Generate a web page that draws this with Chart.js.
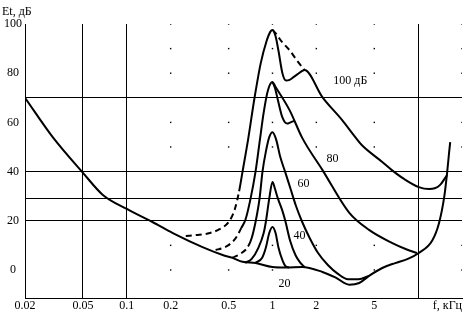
<!DOCTYPE html>
<html><head><meta charset="utf-8">
<script src="https://cdn.jsdelivr.net/npm/chart.js@4/dist/chart.umd.min.js"></script>
<style>html,body{margin:0;padding:0;background:#fff;}#wrap{width:469px;height:315px;position:relative;}</style>
</head><body><div id="wrap"><canvas id="c" width="469" height="315"></canvas></div>
<script>
// ---- data (frequency in kHz, level in dB) ----
const thresholdF = [0.02,0.031,0.05,0.0685,0.1,0.15,0.207,0.331,0.455,0.532,0.623,0.765,1.0,1.23,1.6,2.2,2.7,3.37,3.94,4.6,5.67,6.95,8.5,10.1,12.5,13.9,15.1,15.8,16.3,16.6];
const thresholdL = [70,54,39.5,30.5,24.8,19.5,15,9.3,6.1,4.9,3.3,2.8,1.2,1.0,1.2,-0.8,-3,-6,-5.3,-2.4,0.8,2.8,4.5,6.9,12,19,29.7,39.4,47.6,52];

const m20F = [0.76,0.85,0.9,0.95,1.0,1.05,1.1,1.17,1.23,1.3];
const m20L = [2.8,5,9,15,17.5,15,9,4,1.5,1.0];

const m40F = [0.65,0.72,0.8,0.87,0.9,0.95,1.0,1.04,1.09,1.17,1.23,1.32,1.44,1.55,1.66];
const m40L = [2.9,4.5,9,15,19.5,29,35.8,33,29,24,19.5,12,6,3,1.2];

const m60F = [0.53,0.6,0.68,0.72,0.765,0.815,0.854,0.9,0.95,1.0,1.06,1.13,1.22,1.33,1.45,1.6,1.8,2.05,2.4,2.8,3.3,3.9,4.6];
const m60L = [5,6.5,9.5,13,19.5,29,40,48,54,56,53,46,40,33,26,19.5,13,7,2,-1.5,-3.8,-3.8,-2.4];
const m60Dashed = 2;

const m80F = [0.407,0.46,0.51,0.56,0.61,0.653,0.707,0.765,0.82,0.87,0.93,1.0,1.05,1.31,1.6,2.2,3.37,4.6,6.6,8.2,9.8];
const m80L = [8.1,9,10.5,13,17,20.5,29,40,53,64,73,76.4,74.4,65,53.7,40.7,23.2,16.3,11,8.5,6.9];
const m80Dashed = 4;
const m80HookF = [1.0,1.04,1.09,1.17,1.26,1.33,1.41];
const m80HookL = [76.4,74,69,62,59.5,60,60.6];

const m100F = [0.254,0.30,0.36,0.43,0.50,0.55,0.59,0.623,0.68,0.753,0.83,0.91,0.97,1.0,1.05,1.1,1.17,1.24,1.31,1.4,1.48,1.66,2.2,3.0,3.7,4.1,5.67,6.6,8.0,10.1,11.9,13.0,14.1,15.8];
const m100L = [13.8,14.2,14.8,16.5,19.5,24.5,32,40,53,70,84,93,97,97.6,95,89,80,77,77.3,78.5,79.5,81.3,70.3,61,54,50.8,43.9,40.6,37,33.7,32.9,33.2,34.5,38.6];
const m100Dashed = 6;
const m100UpperF = [1.0,1.05,1.15,1.31,1.48,1.66];
const m100UpperL = [97.6,96.3,93,89.4,85,81.3];

// axis ticks and reference lines
const xTickValues = [0.02,0.05,0.1,0.2,0.5,1,2,5,10,20];
const xTickLabels = ['0.02','0.05','0.1','0.2','0.5','1','2','5','',''];
const xGridValues = [0.05,0.1,10];
const yTickValues = [0,20,29,40,60,70,80,100];
const yTickLabels = {0:'0',20:'20',40:'40',60:'60',80:'80',100:'100'};
const yGridValues = [20,29,40,70];
const dotF = [0.02,0.2,0.5,1,2,5,20];
const dotL = [100,90,80,60,50,10,0];

// curve labels
const labelText = ['100 дБ','80','60','40','20'];
const labelF = [3.42,2.58,1.63,1.53,1.21];
const labelL = [76.8,45.1,35,13.8,-5.7];

// ---- chart ----
const pts = (f, l) => f.map((x, i) => ({x: x, y: l[i]}));
const FONT = '"Liberation Serif", "DejaVu Serif", serif';
const dashUntil = n => ({ borderDash: ctx => (ctx.p1DataIndex <= n ? [6, 4] : undefined) });
const lineDs = (f, l, extra) => Object.assign({
  type: 'line', data: pts(f, l), borderColor: '#000', borderWidth: 2,
  pointRadius: 0, fill: false, cubicInterpolationMode: 'monotone'
}, extra || {});

const dots = [];
dotF.forEach(f => dotL.forEach(l => dots.push({x: f, y: l})));

const textPlugin = {
  id: 'texts',
  afterDraw(chart) {
    const c = chart.ctx, xs = chart.scales.x, ys = chart.scales.y;
    c.save();
    c.fillStyle = '#000';
    c.font = '12px ' + FONT;
    c.textBaseline = 'middle';
    c.textAlign = 'center';
    labelText.forEach((t, i) => c.fillText(t, xs.getPixelForValue(labelF[i]), ys.getPixelForValue(labelL[i])));
    c.textAlign = 'left';
    c.fillText('Et, дБ', 2, 12);
    c.textAlign = 'right';
    c.fillText('f, кГц', chart.chartArea.right, 306);
    c.restore();
  }
};

new Chart(document.getElementById('c'), {
  data: {
    datasets: [
      lineDs(thresholdF, thresholdL),
      lineDs(m20F, m20L),
      lineDs(m40F, m40L),
      lineDs(m60F, m60L, {segment: dashUntil(m60Dashed)}),
      lineDs(m80F, m80L, {segment: dashUntil(m80Dashed)}),
      lineDs(m80HookF, m80HookL),
      lineDs(m100F, m100L, {segment: dashUntil(m100Dashed)}),
      lineDs(m100UpperF, m100UpperL, {borderDash: [6, 4], cubicInterpolationMode: 'default', tension: 0}),
      {type: 'scatter', data: dots, pointStyle: 'rect', pointRadius: 1, backgroundColor: '#000', borderWidth: 0}
    ]
  },
  options: {
    responsive: false, animation: false, devicePixelRatio: 1,
    layout: {padding: {top: 24, right: 7, left: 0, bottom: 0}},
    plugins: {legend: {display: false}, tooltip: {enabled: false}},
    scales: {
      x: {
        type: 'logarithmic', min: 0.02, max: 20,
        afterBuildTicks: s => { s.ticks = xTickValues.map(v => ({value: v})); },
        afterFit: s => { s.height = 17; },
        ticks: {autoSkip: false, maxRotation: 0, padding: 1, color: '#000', font: {family: FONT, size: 12},
                callback: (v, i) => xTickLabels[i]},
        grid: {drawTicks: false, lineWidth: 1,
               color: ctx => (ctx.tick && xGridValues.includes(ctx.tick.value) ? '#000' : 'rgba(0,0,0,0)')},
        border: {display: true, color: '#000', width: 1}
      },
      y: {
        type: 'linear', min: -11.4, max: 100,
        afterBuildTicks: s => { s.ticks = yTickValues.map(v => ({value: v})); },
        afterFit: s => { s.width = 25; },
        ticks: {autoSkip: false, padding: 3, crossAlign: 'center', color: '#000', font: {family: FONT, size: 12},
                callback: v => (yTickLabels[v] !== undefined ? yTickLabels[v] : '')},
        grid: {drawTicks: false, lineWidth: 1,
               color: ctx => (ctx.tick && yGridValues.includes(ctx.tick.value) ? '#000' : 'rgba(0,0,0,0)')},
        border: {display: true, color: '#000', width: 1}
      }
    }
  },
  plugins: [textPlugin]
});
</script></body></html>
